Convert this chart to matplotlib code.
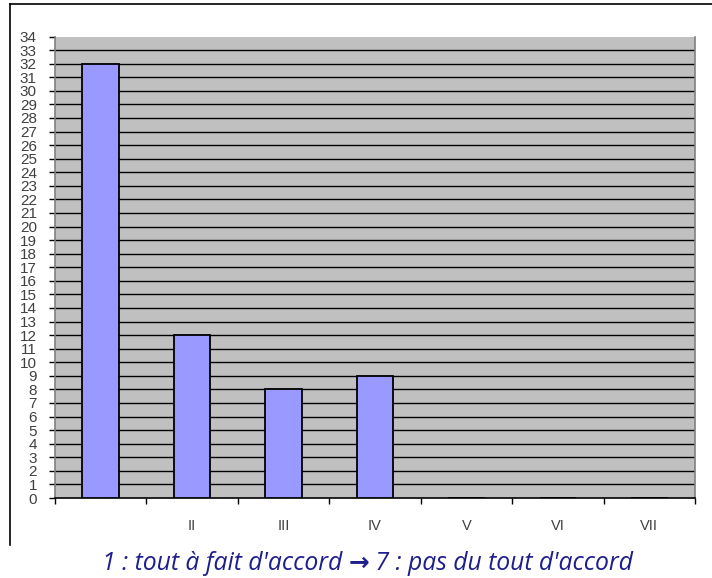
import matplotlib
matplotlib.use("Agg")
import matplotlib.pyplot as plt
from matplotlib.lines import Line2D

categories = ["", "II", "III", "IV", "V", "VI", "VII"]
counts = [32, 12, 8, 9, 0, 0, 0]
y_ticks = list(range(0, 35))
caption_left = "1 : tout à fait d'accord "
caption_arrow = "\u2192"
caption_right = " 7 : pas du tout d'accord"

W, H = 712, 578
fig = plt.figure(figsize=(W / 100, H / 100), dpi=100)
fig.patch.set_facecolor("white")

ax = fig.add_axes([55 / W, 1 - 498 / H, 640 / W, 461.5 / H])
ax.set_facecolor("#c0c0c0")

x = list(range(len(categories)))
ax.bar(x, counts, width=0.4, color="#9999ff", edgecolor="black",
       linewidth=1.3, zorder=3)

ax.set_xlim(-0.5, len(categories) - 0.5)
ax.set_ylim(0, 34)

ax.set_yticks(y_ticks)
ax.set_yticklabels([str(v) for v in y_ticks])
ax.yaxis.grid(True, color="black", linewidth=1.0, zorder=1)
ax.get_ygridlines()[-1].set_visible(False)
ax.get_ygridlines()[0].set_visible(False)
ax.set_axisbelow(True)

ax.set_xticks([i + 0.5 for i in range(-1, len(categories))])
ax.set_xticklabels([])
ax.set_xticks(x, minor=True)
ax.set_xticklabels(categories, minor=True)
ax.tick_params(axis="x", which="major", direction="out", length=4.5,
               color="black", width=1)
ax.tick_params(axis="x", which="minor", length=0, pad=15,
               labelsize=10.5, labelcolor="#404040")
ax.tick_params(axis="y", direction="out", length=4.5, width=1, color="black",
               pad=8.5, labelsize=11, labelcolor="#404040")
for lbl in ax.get_xticklabels(minor=True) + ax.get_yticklabels():
    lbl.set_family(["Liberation Sans Narrow", "Liberation Sans"])

ax.spines["top"].set_visible(False)
ax.spines["left"].set_color("#808080")
ax.spines["right"].set_color("#808080")
ax.spines["bottom"].set_color("black")
for side in ("left", "right", "bottom"):
    ax.spines[side].set_linewidth(1.2)

# outer frame lines (top and left)
fig.add_artist(Line2D([10 / W, 1.0], [1 - 4 / H, 1 - 4 / H],
                      transform=fig.transFigure, color="black", linewidth=1.2))
fig.add_artist(Line2D([10 / W, 10 / W], [1 - 4 / H, 1 - 545 / H],
                      transform=fig.transFigure, color="black", linewidth=1.2))

# caption built from three pieces so the arrow can be bold
cap_color = "#1e1e8c"
cap_y = 1 - 563 / H
cap_size = 17.8
cap_kw = dict(va="center", fontsize=cap_size, style="italic", color=cap_color)
renderer = fig.canvas.get_renderer()
t1 = fig.text(0, cap_y, caption_left, family=["Open Sans", "DejaVu Sans"], **cap_kw)
t2 = fig.text(0, cap_y, caption_arrow, family=["DejaVu Sans"], va="center",
              fontsize=cap_size, fontweight="bold", color=cap_color)
t3 = fig.text(0, cap_y, caption_right, family=["Open Sans", "DejaVu Sans"], **cap_kw)
w1 = t1.get_window_extent(renderer).width
w2 = t2.get_window_extent(renderer).width
w3 = t3.get_window_extent(renderer).width
start = 367.5 - (w1 + w2 + w3) / 2
t1.set_x(start / W)
t2.set_x((start + w1) / W)
t3.set_x((start + w1 + w2) / W)

fig.savefig("out.png", dpi=100, facecolor="white")
